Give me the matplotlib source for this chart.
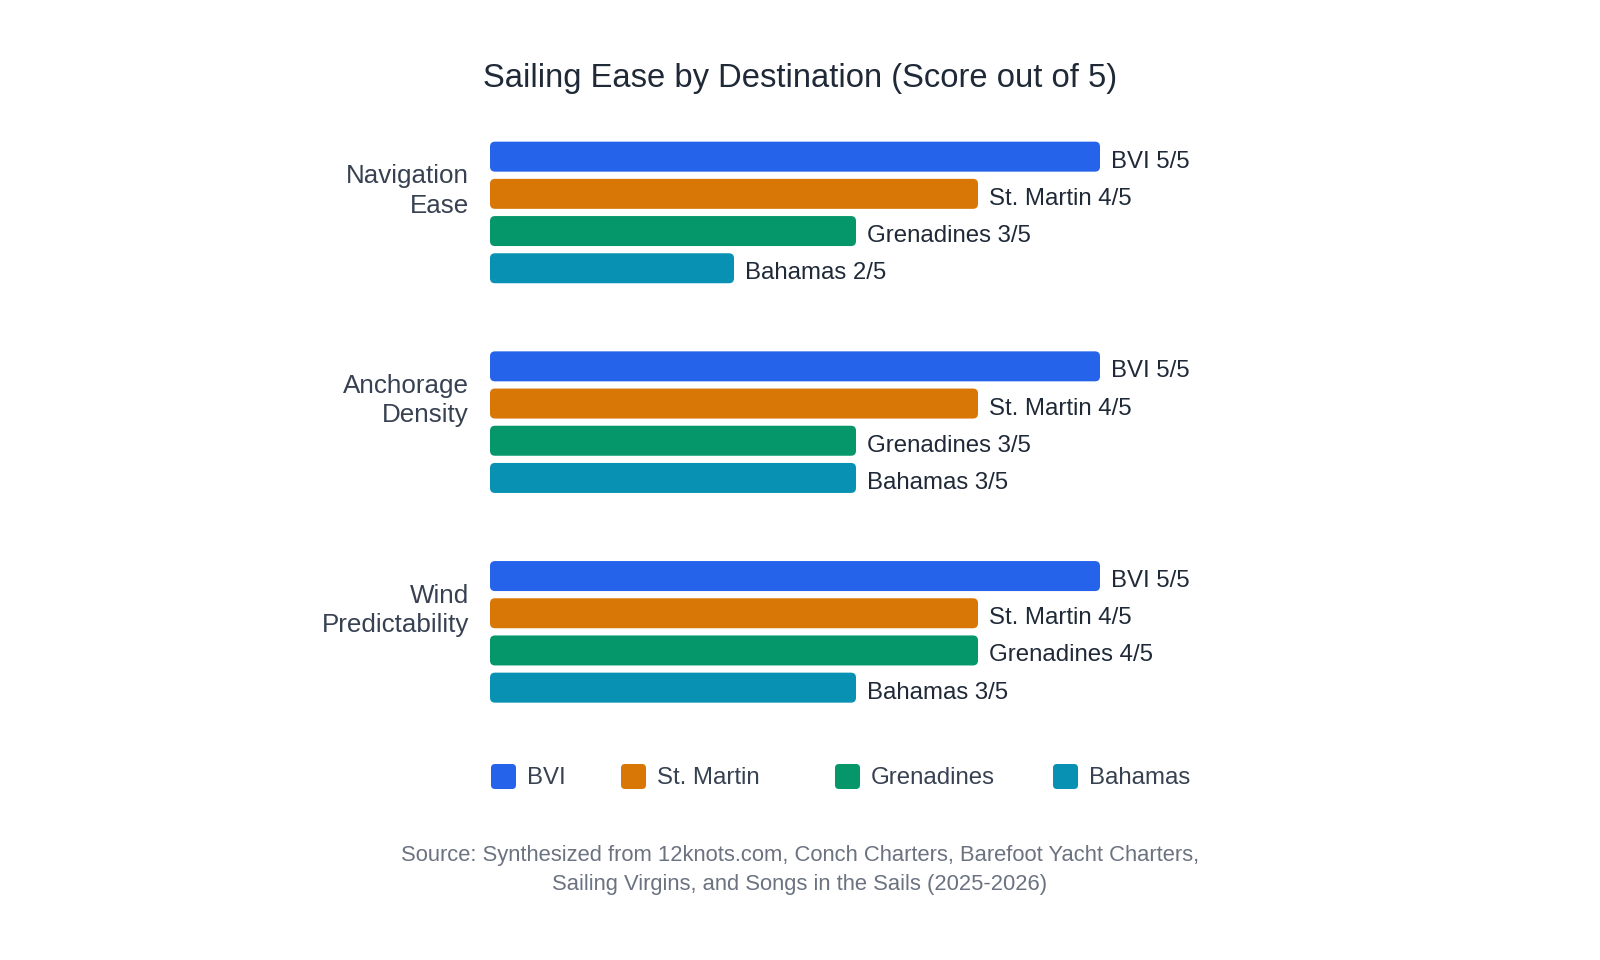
import numpy as np
import matplotlib
matplotlib.use('Agg')
import matplotlib.pyplot as plt
from matplotlib.patches import FancyBboxPatch

plt.rcParams['font.family'] = ['Liberation Sans', 'DejaVu Sans']

# data
categories = ['Navigation\nEase', 'Anchorage\nDensity', 'Wind\nPredictability']
destinations = ['BVI', 'St. Martin', 'Grenadines', 'Bahamas']
bvi = [5, 5, 5]
st_martin = [4, 4, 4]
grenadines = [3, 3, 4]
bahamas = [2, 3, 3]
scores = [bvi, st_martin, grenadines, bahamas]
colors = ['#2563eb', '#d97706', '#059669', '#0891b2']

W, H = 1600, 960
fig = plt.figure(figsize=(W / 100, H / 100), dpi=100)

# plot area in pixels (from top-left)
left_px, top_px = 490, 107.6
band_px = 209.7          # one category band
unit_px = 122.0          # one score point
xmax = 6.0
ax = fig.add_axes([left_px / W, 1 - (top_px + 3 * band_px) / H,
                   xmax * unit_px / W, 3 * band_px / H])
ax.set_xlim(0, xmax)
ax.set_ylim(2.5, -0.5)
ax.axis('off')

slot = 37.2 / band_px
bar_h = 30.0 / band_px
radius = 5.0 / unit_px
aspect = unit_px / band_px

y = np.arange(len(categories))
for j, (name, vals, c) in enumerate(zip(destinations, scores, colors)):
    bars = ax.barh(y + (j - 1.5) * slot, vals, height=bar_h, color=c)
    for b, v in zip(bars, vals):
        b.set_visible(False)
        ax.add_patch(FancyBboxPatch((b.get_x(), b.get_y()), b.get_width(), b.get_height(),
                                    boxstyle='round,pad=0,rounding_size=%f' % radius,
                                    mutation_aspect=aspect, fc=c, ec='none'))
        ax.annotate('%s %d/5' % (name, v), (v, b.get_y() + b.get_height() / 2),
                    xytext=(11, -5), textcoords='offset pixels',
                    va='center', ha='left', fontsize=17.3, color='#1f2937')

for i, cat in enumerate(categories):
    ax.annotate(cat, (0, i), xytext=(-21, 21.5), textcoords='offset pixels',
                ha='right', va='center', fontsize=18.7, color='#374151',
                linespacing=1.28)

fig.text(0.5, 1 - 78 / H, 'Sailing Ease by Destination (Score out of 5)',
         ha='center', va='center', fontsize=23.6, color='#1f2937')

# legend
leg_x = [491, 621, 835, 1053]
leg_y = 776.5
sq = 25
for x0, name, c in zip(leg_x, destinations, colors):
    fig.add_artist(FancyBboxPatch((x0 / W, 1 - (leg_y + sq / 2) / H), sq / W, sq / H,
                                  boxstyle='round,pad=0,rounding_size=%f' % (4 / W),
                                  mutation_aspect=W / H, transform=fig.transFigure,
                                  fc=c, ec='none'))
    fig.text((x0 + sq + 11) / W, 1 - (leg_y + 2) / H, name, ha='left', va='center',
             fontsize=17.3, color='#374151')

fig.text(0.5, 1 - 870 / H,
         'Source: Synthesized from 12knots.com, Conch Charters, Barefoot Yacht Charters,\n'
         'Sailing Virgins, and Songs in the Sails (2025-2026)',
         ha='center', va='center', fontsize=15.8, color='#6b7280', linespacing=1.45)

fig.savefig('out.png', dpi=100, facecolor='white')
